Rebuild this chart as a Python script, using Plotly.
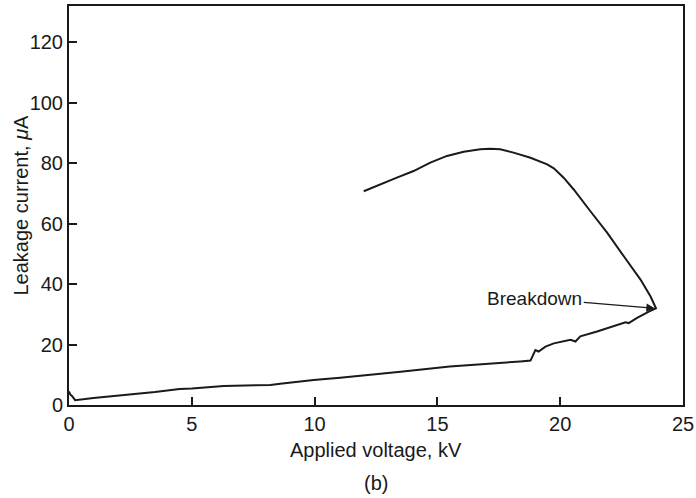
import plotly.graph_objects as go

# Rising branch (applied voltage, kV -> leakage current, uA)
rise_kv = [0.0, 0.05, 0.12, 0.25, 1.0, 2.6, 3.5, 4.5, 5.0, 6.3, 7.4, 8.2, 8.6, 9.96, 11.04, 12.3,
           13.5, 15.5, 17.6, 18.38, 18.79, 18.99, 19.12, 19.4, 19.74, 20.42, 20.62, 20.82,
           21.5, 22.32, 22.52, 22.66, 22.79, 23.13, 23.61, 23.88]
rise_ua = [4.5, 3.5, 3.0, 1.6, 2.3, 3.5, 4.3, 5.3, 5.5, 6.3, 6.5, 6.6, 7.0, 8.3, 9.0, 9.9,
           11.0, 12.7, 13.8, 14.4, 14.7, 18.2, 17.7, 19.3, 20.4, 21.6, 21.0, 22.7,
           24.3, 26.5, 26.9, 27.4, 27.1, 28.8, 30.9, 32.1]

# Post-breakdown branch (from breakdown back to 12 kV)
fall_kv = [23.9, 23.68, 23.27, 22.59, 21.91, 21.23, 20.82, 20.55, 20.14, 19.74, 19.47, 18.79, 18.1,
           17.56, 17.16, 16.75, 16.07, 15.39, 14.71, 14.03, 13.35, 12.67, 12.0]
fall_ua = [32.0, 35.9, 41.5, 49.2, 57.0, 64.1, 68.5, 71.3, 75.2, 78.3, 79.6, 81.8, 83.5,
           84.6, 84.8, 84.6, 83.8, 82.4, 80.2, 77.4, 75.2, 73.0, 70.7]

x_ticks = [0, 5, 10, 15, 20, 25]
y_ticks = [0, 20, 40, 60, 80, 100, 120]

fig = go.Figure()
fig.add_trace(go.Scatter(x=rise_kv + fall_kv, y=rise_ua + fall_ua, mode="lines",
                         line=dict(color="#1a1a1a", width=2), showlegend=False, hoverinfo="skip"))

FAM = "Liberation Sans, Arial, sans-serif"
font = dict(family=FAM, size=20, color="#1a1a1a")

fig.add_annotation(x=23.85, y=32, xref="x", yref="y", text="Breakdown", showarrow=True,
                   ax=-120, ay=-10, arrowhead=2, arrowsize=1.2, arrowwidth=1.4,
                   arrowcolor="#1a1a1a", font=dict(family=FAM, size=19, color="#1a1a1a"), standoff=0)
fig.add_annotation(x=0.5, y=0, xref="paper", yref="paper", yshift=-45, text="Applied voltage, kV",
                   showarrow=False, font=font, yanchor="middle", xanchor="center")
fig.add_annotation(x=0.5, y=0, xref="paper", yref="paper", yshift=-78, text="(b)",
                   showarrow=False, font=font, yanchor="middle", xanchor="center")
fig.add_annotation(x=0, y=0.5, xref="paper", yref="paper", xshift=-49, text="Leakage current, <i>μ</i>A",
                   showarrow=False, font=font, textangle=-90, xanchor="center", yanchor="middle")

axis_common = dict(showgrid=False, zeroline=False, showline=True, linecolor="#1a1a1a",
                   linewidth=2, mirror=True, ticks="inside", ticklen=8, tickwidth=2,
                   tickcolor="#1a1a1a", tickfont=font, automargin=False)

fig.update_layout(
    width=696, height=498,
    margin=dict(l=69, r=13, t=6, b=93),
    paper_bgcolor="white", plot_bgcolor="white",
    font=font,
    xaxis=dict(range=[0, 25], tickvals=x_ticks, **axis_common),
    yaxis=dict(range=[0, 132], tickvals=y_ticks, **axis_common),
)
fig.write_html("out.html", config={"displayModeBar": False},
               post_script="document.body.style.margin='0';")
